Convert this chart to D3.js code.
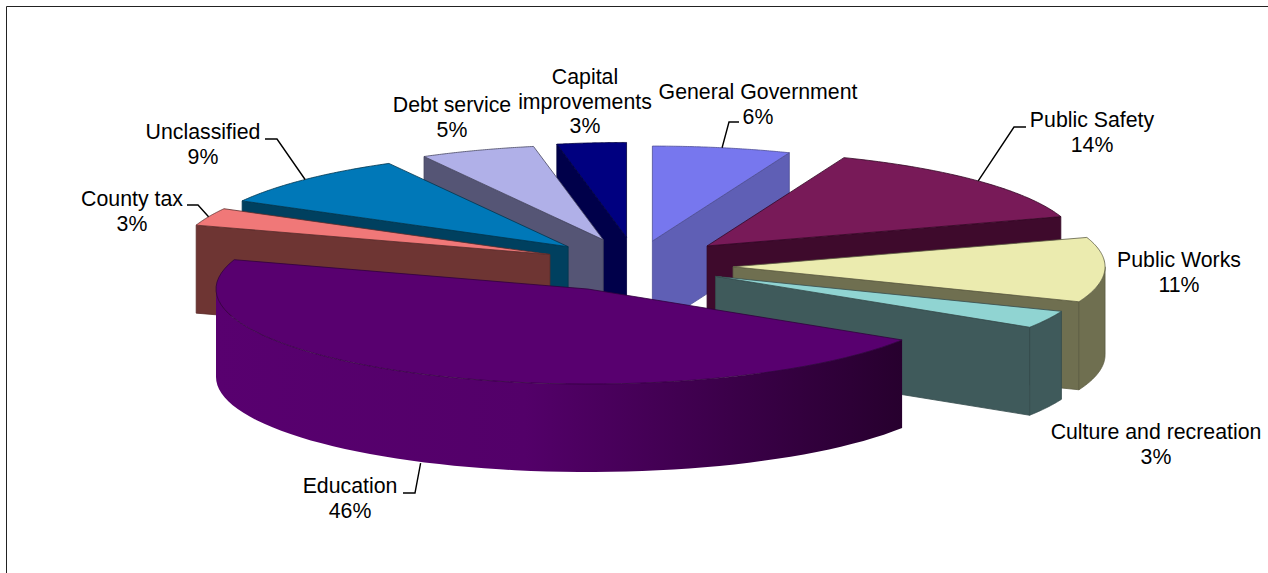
<!DOCTYPE html>
<html>
<head>
<meta charset="utf-8">
<script src="https://cdn.jsdelivr.net/npm/d3@7/dist/d3.min.js"></script>
<style>
  html, body { margin: 0; padding: 0; background: #fff; }
  svg { display: block; }
  text { font-family: "Liberation Sans", Arial, sans-serif; font-size: 21.3px; fill: #000; }
</style>
</head>
<body>
<svg id="chart" width="1268" height="573"></svg>
<script>
// Budget shares, clockwise from twelve o'clock
const categories = ["General Government", "Public Safety", "Public Works", "Culture and recreation",
  "Education", "County tax", "Unclassified", "Debt service", "Capital improvements"];
const shares = [6, 14, 11, 3, 46, 3, 9, 5, 3];
const explode = [0.235, 0.262, 0.261, 0.24, 0.303, 0.252, 0.258, 0.26, 0.27];
// Extra downward drop of the slices nearest the right-hand side of the tilted plane
const sag = [0, 0, 3, 3, 0, 1, 1, 0, 0];

const topColors  = ["#7777ee", "#781a58", "#ebebaf", "#90d4d2", "#58006f", "#f07878", "#0078b8", "#b0b0e8", "#000080"];
const sideColors = ["#5f5fb5", "#3e0a2c", "#6f6f50", "#3f5a5b", "#3a004a", "#6e3533", "#00405f", "#555575", "#00004a"];

// Back-to-front painting order of the slices
const paintOrder = [8, 0, 7, 1, 6, 2, 5, 3, 4];

// Ellipse geometry of the tilted pie
const cx = 636, cy = 263, rx = 372, ry = 95, depth = 88;

const svg = d3.select("#chart");

// Frame along the top and left edges
svg.append("path").attr("d", "M6.5,573V6.5H1268").attr("fill", "none").attr("stroke", "#222").attr("stroke-width", 1);

// Education's wall darkens toward the right
const defs = svg.append("defs");
const wallGrad = defs.append("linearGradient").attr("id", "eduWall");
wallGrad.append("stop").attr("offset", "0%").attr("stop-color", "#58006f");
wallGrad.append("stop").attr("offset", "45%").attr("stop-color", "#530069");
wallGrad.append("stop").attr("offset", "100%").attr("stop-color", "#27002e");

const pie = d3.pie().sort(null).value(d => d);
const arcs = pie(shares);

// Projects plan-view positions of a slice onto the page
const apex = (a, i) => {
  const mid = (a.startAngle + a.endAngle) / 2;
  return [cx + explode[i] * Math.sin(mid) * rx, cy - explode[i] * Math.cos(mid) * ry + sag[i]];
};
const rim = (a, i, t) => {
  const o = apex(a, i);
  return [o[0] + Math.sin(t) * rx, o[1] - Math.cos(t) * ry];
};
const line = d3.line();
const arcPoints = (a, i, t0, t1) => d3.range(0, 61).map(k => rim(a, i, t0 + (t1 - t0) * k / 60));
const drop = p => [p[0], p[1] + depth];

paintOrder.forEach(i => {
  const a = arcs[i];
  const o = apex(a, i);
  const g = svg.append("g").attr("class", "slice");
  const edge = { stroke: d3.color(sideColors[i]).darker(0.5), width: 0.8 };
  const face = (pts, fill) => g.append("path")
    .attr("d", line(pts) + "Z").attr("fill", fill)
    .attr("stroke", edge.stroke).attr("stroke-width", edge.width).attr("stroke-linejoin", "round");

  // Cut faces: a face is seen when its normal turns toward the viewer
  const startP = rim(a, i, a.startAngle), endP = rim(a, i, a.endAngle);
  if (Math.sin(a.startAngle) < 0) face([o, startP, drop(startP), drop(o)], sideColors[i]);
  if (Math.sin(a.endAngle) > 0)   face([o, endP, drop(endP), drop(o)], sideColors[i]);

  // Outer wall, only for the near half of the rim
  const w0 = Math.max(a.startAngle, Math.PI / 2), w1 = Math.min(a.endAngle, 3 * Math.PI / 2);
  if (w1 > w0) {
    const upper = arcPoints(a, i, w0, w1);
    const isEducation = categories[i] === "Education";
    g.append("path")
      .attr("d", line(upper.concat(upper.map(drop).reverse())) + "Z")
      .attr("fill", isEducation ? "url(#eduWall)" : sideColors[i])
      .attr("stroke", isEducation ? "none" : edge.stroke).attr("stroke-width", edge.width);
  }

  // Top face
  face([o].concat(arcPoints(a, i, a.startAngle, a.endAngle)), topColors[i]);
});

// Data labels with their hand-placed anchors
const labelLayout = [
  { lines: ["General Government"], x: 758, y: 99 },
  { lines: ["Public Safety"], x: 1092, y: 127 },
  { lines: ["Public Works"], x: 1179, y: 267 },
  { lines: ["Culture and recreation"], x: 1156, y: 439 },
  { lines: ["Education"], x: 350, y: 493 },
  { lines: ["County tax"], x: 132, y: 206 },
  { lines: ["Unclassified"], x: 203, y: 139 },
  { lines: ["Debt service"], x: 452, y: 112 },
  { lines: ["Capital", "improvements"], x: 585, y: 84 }
];

labelLayout.forEach((l, i) => {
  const t = svg.append("text").attr("text-anchor", "middle").attr("x", l.x).attr("y", l.y);
  l.lines.concat(shares[i] + "%").forEach((s, k) => {
    t.append("tspan").attr("x", l.x).attr("dy", k ? 24.7 : 0).text(s);
  });
});

// Leader lines: label end, elbow, then the slice rim at its mid-angle
const leaders = [
  { slice: 0, from: [739, 122], elbow: [729, 122], wall: false, tipDx: 0 },
  { slice: 1, from: [1026, 127], elbow: [1014, 127], wall: false, tipDx: 0 },
  { slice: 4, from: [403, 493], elbow: [415, 493], wall: true, tipDx: -9 },
  { slice: 5, from: [187, 205], elbow: [198, 205], wall: false, tipDx: 0 },
  { slice: 6, from: [265, 139], elbow: [277, 139], wall: false, tipDx: 0 }
];
leaders.forEach(l => {
  const a = arcs[l.slice];
  const tip = rim(a, l.slice, (a.startAngle + a.endAngle) / 2);
  const end = [tip[0] + l.tipDx, tip[1] + (l.wall ? depth : 0)];
  svg.append("path").attr("d", line([l.from, l.elbow, end]))
    .attr("fill", "none").attr("stroke", "#000").attr("stroke-width", 1.4);
});
</script>
</body>
</html>
